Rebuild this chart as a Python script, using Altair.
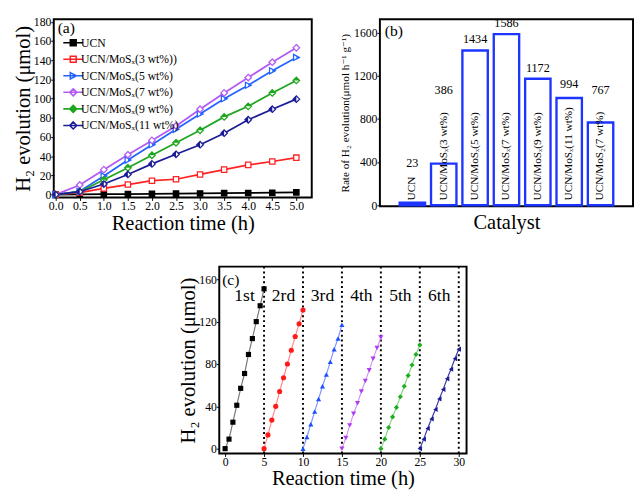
import altair as alt
import pandas as pd

FONT = "Liberation Serif, Times New Roman, Times, DejaVu Serif, serif"

# ---------------- panel (a) data ----------------
time_a = [0.0, 0.5, 1.0, 1.5, 2.0, 2.5, 3.0, 3.5, 4.0, 4.5, 5.0]
series_a = ["UCN", "UCN/MoSₓ(3 wt%))", "UCN/MoSₓ(5 wt%)", "UCN/MoSₓ(7 wt%)",
            "UCN/MoSₓ(9 wt%)", "UCN/MoSₓ(11 wt%)"]
ucn = [0, 0.2, 0.4, 0.6, 0.8, 1.0, 1.2, 1.5, 1.7, 2.0, 2.3]
mos_3 = [0, 2, 6.5, 10.5, 14.5, 16, 21, 26, 31, 34.5, 38.5]
mos_5 = [0, 3.5, 19.5, 36, 52, 68, 84, 100, 114, 129, 143]
mos_7 = [0, 10, 26, 41.5, 56.5, 71.5, 89, 106, 122, 138, 153]
mos_9 = [0, 3, 15.5, 28, 41, 54, 67, 81, 92, 106, 119]
mos_11 = [0, 3, 11, 21, 32, 42, 52, 64, 78, 89, 99.5]
values_a = [ucn, mos_3, mos_5, mos_7, mos_9, mos_11]
colors_a = ["#000000", "#ff2222", "#2563ff", "#b45af2", "#1fa51f", "#1c1c96"]
x_ticks_a = [0.0, 0.5, 1.0, 1.5, 2.0, 2.5, 3.0, 3.5, 4.0, 4.5, 5.0]
y_ticks_a = [0, 20, 40, 60, 80, 100, 120, 140, 160, 180]

# ---------------- panel (b) data ----------------
cats_b = ["UCN", "UCN/MoSₓ(3 wt%)", "UCN/MoSₓ(5 wt%)", "UCN/MoSₓ(7 wt%)",
          "UCN/MoSₓ(9 wt%)", "UCN/MoSₓ(11 wt%)", "UCN/MoS₂(7 wt%)"]
rates_b = [23, 386, 1434, 1586, 1172, 994, 767]
y_ticks_b = [0, 200, 400, 600, 800, 1000, 1200, 1400, 1600]

# ---------------- panel (c) data ----------------
cycle_names = ["1st", "2rd", "3rd", "4th", "5th", "6th"]
cycle_t = [0.0, 0.5, 1.0, 1.5, 2.0, 2.5, 3.0, 3.5, 4.0, 4.5, 5.0]
cycle_1 = [0, 9, 25, 41, 57, 71, 89, 104, 120, 135, 151]
cycle_2 = [0, 13, 27, 40, 54, 67, 80, 93, 106, 118, 131]
cycle_3 = [0, 11, 23, 35, 47, 59, 70, 82, 94, 104, 117]
cycle_4 = [0, 10, 22, 33, 43, 54, 64, 74, 85, 95, 105]
cycle_5 = [0, 9, 20, 30, 39, 49, 59, 69, 79, 89, 98]
cycle_6 = [0, 9, 19, 28, 37, 47, 56, 66, 75, 85, 94]
cycles_c = [cycle_1, cycle_2, cycle_3, cycle_4, cycle_5, cycle_6]
cycle_len = 5.0
marker_c = ["#000000", "#ff1a1a", "#1f4fff", "#b03cf0", "#1fae1f", "#1c1c96"]
line_c = ["#777777", "#ff8a8a", "#7b96ff", "#d596f2", "#83d483", "#3a3aa8"]
shape_c = ["square", "circle", "triangle-up", "triangle-down", "diamond", "triangle-left"]
x_ticks_c = [0, 5, 10, 15, 20, 25, 30]
y_ticks_c = [0, 20, 40, 60, 80, 100, 120, 140, 160]

panel_tags = ["(a)", "(b)", "(c)"]

# ---------------- marker paths ----------------
SQUARE = "M-1,-1L1,-1L1,1L-1,1Z"
DIAMOND = "M0,-1.15L1.15,0L0,1.15L-1.15,0Z"
TRI_R = "M-1,-1.1L1.1,0L-1,1.1Z"
TRI_R_HALF = "M0.05,-0.6L1.1,0L0.05,0.6Z"
DIA_TOP = "M-1.15,0L0,-1.15L1.15,0Z"
DIA_LEFT = "M0,-1.15L-1.15,0L0,1.15Z"

shapes_a = [SQUARE, SQUARE, TRI_R, DIAMOND, DIAMOND, DIAMOND]
fills_a = ["#000000", "white", "white", "white", "white", "white"]
halves_a = [None, None, TRI_R_HALF, None, DIA_TOP, DIA_LEFT]
sizes_a = [30, 30, 32, 34, 34, 34]

LEG_LINE = "M-3.4,0L3.4,0"
legend_paths = [
    LEG_LINE + "M-1,-1L1,-1L1,1L-1,1Z",
    LEG_LINE + "M-1,-1L1,-1L1,1L-1,1Z",
    LEG_LINE + "M-1,-1.1L1.1,0L-1,1.1Z",
    LEG_LINE + "M0,-1.2L1.2,0L0,1.2L-1.2,0Z",
    LEG_LINE + "M0,-1.2L1.2,0L0,1.2L-1.2,0Z",
    LEG_LINE + "M0,-1.2L1.2,0L0,1.2L-1.2,0Z",
]
legend_fills = ["#000000", "white", "white", "white", "#1fa51f", "white"]


def ax(**kw):
    return alt.Axis(labelFont=FONT, titleFont=FONT, labelColor="black", titleColor="black",
                    titleFontWeight="normal", grid=False, domain=False, tickColor="black",
                    tickSize=3, labelPadding=0, **kw)


def tag_layer(tag, dx, dy):
    return alt.Chart(pd.DataFrame({"tag": [tag]})).mark_text(
        align="left", baseline="middle", font=FONT, fontSize=16, color="black"
    ).encode(text="tag:N", x=alt.value(dx), y=alt.value(dy))


# ---------------- panel (a) ----------------
rows = []
for name, vals in zip(series_a, values_a):
    for t, v in zip(time_a, vals):
        rows.append({"series": name, "time": t, "h2": v})
df_a = pd.DataFrame(rows)

xa = alt.X("time:Q", scale=alt.Scale(domain=[-0.04, 5.32], nice=False, zero=False),
           axis=ax(values=x_ticks_a, format=".1f", title="Reaction time (h)",
                   titleFontSize=21, labelFontSize=12, titlePadding=2))
ya = alt.Y("h2:Q", scale=alt.Scale(domain=[-3, 182.7], nice=False, zero=False),
           axis=ax(values=y_ticks_a, title="H₂ evolution (μmol)",
                   titleFontSize=21, labelFontSize=12, titlePadding=0))

base_a = alt.Chart(df_a)
layers_a = []
for name, col in zip(series_a, colors_a):
    layers_a.append(base_a.transform_filter(alt.FieldEqualPredicate(field="series", equal=name))
                    .mark_line(color=col, strokeWidth=1.8).encode(x=xa, y=ya))
for name, col, shp, fil, half, sz in zip(series_a, colors_a, shapes_a, fills_a, halves_a, sizes_a):
    sub = base_a.transform_filter(alt.FieldEqualPredicate(field="series", equal=name))
    layers_a.append(sub.mark_point(shape=shp, size=sz, fill=fil, stroke=col, strokeWidth=1.3,
                                   opacity=1, fillOpacity=1).encode(x=xa, y=ya))
    if half:
        layers_a.append(sub.mark_point(shape=half, size=sz, fill=col, strokeWidth=0,
                                       opacity=1, fillOpacity=1).encode(x=xa, y=ya))

leg = alt.Legend(title=None, orient="none", legendX=14, legendY=18, labelFontSize=12,
                 labelFont=FONT, symbolSize=36, symbolStrokeWidth=1.6, labelOffset=2,
                 rowPadding=3, labelLimit=300)
legend_layer = base_a.transform_filter("false").mark_point(opacity=1, fillOpacity=1).encode(
    x=xa, y=ya,
    shape=alt.Shape("series:N", scale=alt.Scale(domain=series_a, range=legend_paths), legend=leg),
    stroke=alt.Stroke("series:N", scale=alt.Scale(domain=series_a, range=colors_a), legend=leg),
    fill=alt.Fill("series:N", scale=alt.Scale(domain=series_a, range=legend_fills), legend=leg),
)
layers_a.append(legend_layer)
layers_a.append(tag_layer(panel_tags[0], 4, 9))

chart_a = alt.layer(*layers_a).properties(width=265, height=183)

# ---------------- panel (b) ----------------
PX_PER_CHAR = 6.2
Y_UNITS_PER_PX = 1732 / 192
LABEL_GAP = 45
df_b = pd.DataFrame({"cat": cats_b, "rate": rates_b})
df_b["label_y"] = [max(r + 40, LABEL_GAP + (len(c) * PX_PER_CHAR + 13) * Y_UNITS_PER_PX)
                   for c, r in zip(cats_b, rates_b)]

xb = alt.X("cat:N", sort=cats_b, scale=alt.Scale(paddingInner=0.19, paddingOuter=0.63),
           axis=ax(labels=False, ticks=False, title="Catalyst",
                   titleFontSize=21, titlePadding=6))
yb_scale = alt.Scale(domain=[-9, 1723], nice=False, zero=False)
yb = alt.Y("rate:Q", scale=yb_scale,
           axis=ax(values=y_ticks_b, format="d",
                   title="Rate of H₂ evolution(μmol h⁻¹ g⁻¹)",
                   titleFontSize=11.5, labelFontSize=12, titlePadding=3))
base_b = alt.Chart(df_b)
bars = base_b.mark_bar(fill="white", stroke="#1d35ff", strokeWidth=2.4).encode(
    x=xb, y=yb, y2=alt.datum(0))
cat_text = base_b.mark_text(angle=270, align="left", baseline="middle", font=FONT,
                            fontSize=11.5, color="black").encode(
    x=xb, y=alt.datum(LABEL_GAP, scale=yb_scale), text="cat:N")
val_text = base_b.mark_text(baseline="bottom", font=FONT, fontSize=12.5, color="black").encode(
    x=xb, y=alt.Y("label_y:Q", scale=yb_scale), text="rate:Q")
chart_b = alt.layer(bars, cat_text, val_text, tag_layer(panel_tags[1], 5, 12)).properties(
    width=260, height=192)

# ---------------- panel (c) ----------------
rows = []
for i, (name, vals) in enumerate(zip(cycle_names, cycles_c)):
    for t, v in zip(cycle_t, vals):
        rows.append({"cycle": name, "time": i * cycle_len + t, "h2": v})
df_c = pd.DataFrame(rows)
df_ends = pd.DataFrame({"end": [(i + 1) * cycle_len for i in range(len(cycle_names))],
                        "mid": [(i + 0.5) * cycle_len for i in range(len(cycle_names))],
                        "name": cycle_names})
LABEL_Y_C = 144

xc_scale = alt.Scale(domain=[-0.75, 31], nice=False, zero=False)
xc = alt.X("time:Q", scale=xc_scale,
           axis=ax(values=x_ticks_c, title="Reaction time (h)", titleFontSize=21,
                   labelFontSize=12, titlePadding=1))
yc_scale = alt.Scale(domain=[-4.6, 172], nice=False, zero=False)
yc = alt.Y("h2:Q", scale=yc_scale,
           axis=ax(values=y_ticks_c, title="H₂ evolution (μmol)", titleFontSize=21,
                   labelFontSize=12, titlePadding=0))
base_c = alt.Chart(df_c)
layers_c = []
rules = alt.Chart(df_ends).mark_rule(color="black", strokeWidth=2, strokeDash=[2, 3]).encode(
    x=alt.X("end:Q", scale=xc_scale))
layers_c.append(rules)
for name, lc, mc, shp in zip(cycle_names, line_c, marker_c, shape_c):
    sub = base_c.transform_filter(alt.FieldEqualPredicate(field="cycle", equal=name))
    layers_c.append(sub.mark_line(color=lc, strokeWidth=1.2).encode(x=xc, y=yc))
    layers_c.append(sub.mark_point(shape=shp, size=28, filled=True, color=mc, opacity=1)
                    .encode(x=xc, y=yc))
cyc_text = alt.Chart(df_ends).mark_text(font=FONT, fontSize=18, color="black").encode(
    x=alt.X("mid:Q", scale=xc_scale),
    y=alt.datum(LABEL_Y_C, scale=yc_scale), text="name:N")
layers_c.append(cyc_text)
layers_c.append(tag_layer(panel_tags[2], 3, 14))
chart_c = alt.layer(*layers_c).properties(width=254, height=192)

spacer = alt.Chart(pd.DataFrame({"v": [0]})).mark_point(opacity=0).properties(
    width=126, height=10, view=alt.ViewBackground(stroke="transparent"))

top = alt.hconcat(chart_a, chart_b, spacing=27)
bottom = alt.hconcat(spacer, chart_c, spacing=0)
chart = alt.vconcat(top, bottom, spacing=31).properties(
    padding={"left": 4, "top": 0, "right": 0, "bottom": 0}
).configure(font=FONT).configure_view(
    stroke="black", strokeWidth=2
).configure_axis(
    labelFont=FONT, titleFont=FONT, labelColor="black", titleColor="black",
    tickColor="black", domainColor="black", titleFontWeight="normal", grid=False,
    tickSize=3, labelPadding=0, domain=False
).configure_legend(labelFont=FONT).configure_title(font=FONT, fontWeight="normal")

chart.save("out.html", embed_options={"renderer": "svg", "actions": False})
